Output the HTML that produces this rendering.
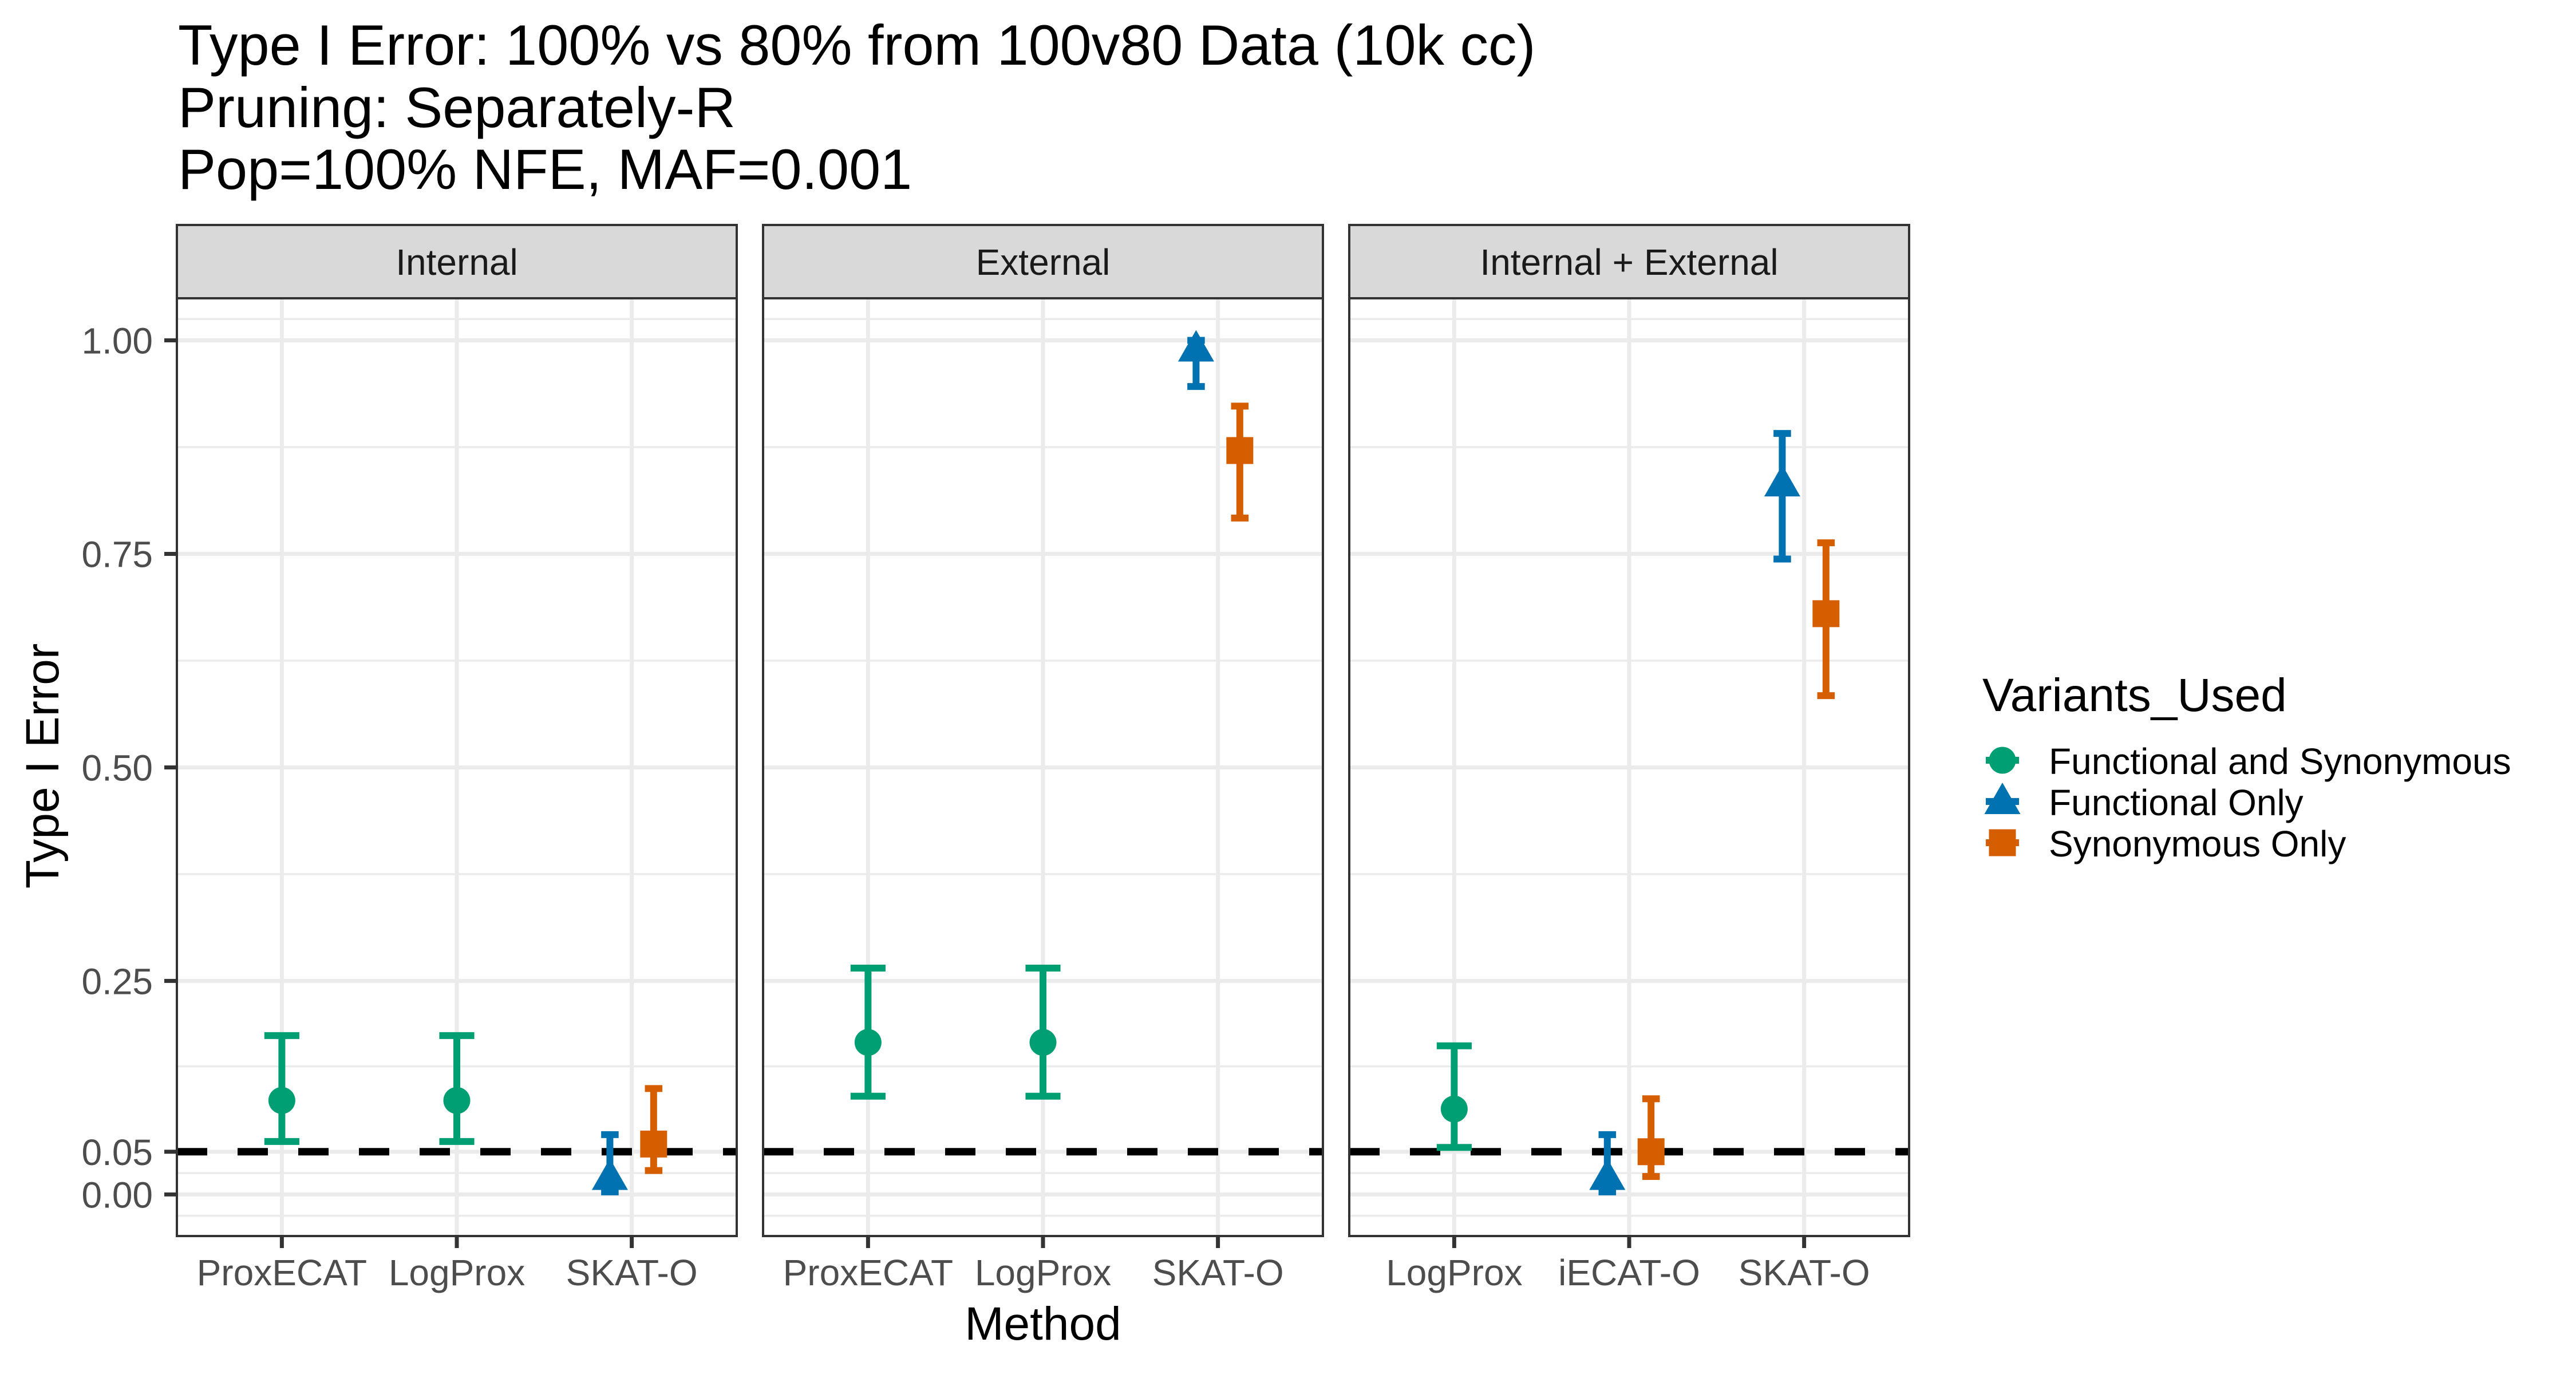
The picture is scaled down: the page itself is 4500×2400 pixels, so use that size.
<!DOCTYPE html>
<html><head><meta charset="utf-8"><style>
html,body{margin:0;padding:0;background:#fff;}
svg{display:block;font-family:"Liberation Sans",Arial,sans-serif;}
</style></head><body>
<svg id="chart" width="4500" height="2400" viewBox="0 0 4500 2400" xmlns="http://www.w3.org/2000/svg">
<rect width="4500" height="2400" fill="#fff"/>
<g font-size="99" fill="#000">
<text x="311" y="113">Type I Error: 100% vs 80% from 100v80 Data (10k cc)</text>
<text x="311" y="222">Pruning: Separately-R</text>
<text x="311" y="330">Pop=100% NFE, MAF=0.001</text>
</g>
<g id="panels"></g>
<text transform="translate(102,1338) rotate(-90)" text-anchor="middle" font-size="82" fill="#000">Type I Error</text>
<text x="1822" y="2340" text-anchor="middle" font-size="82" fill="#000">Method</text>
<g>
<text x="3463" y="1242" font-size="82" fill="#000">Variants_Used</text>
<g id="legend-entries"></g>
</g>
</svg>
<script>
const facets = ["Internal", "External", "Internal + External"];
const facetCategories = [["ProxECAT","LogProx","SKAT-O"],["ProxECAT","LogProx","SKAT-O"],["LogProx","iECAT-O","SKAT-O"]];
const groups = ["Functional and Synonymous","Functional Only","Synonymous Only"];
const groupColors = ["#009E73","#0072B2","#D55E00"];
const yTicks = [0, 0.05, 0.25, 0.5, 0.75, 1.0];
const yTickLabels = ["0.00","0.05","0.25","0.50","0.75","1.00"];
const yMinor = [-0.025, 0.025, 0.15, 0.375, 0.625, 0.875, 1.025];
const refLine = 0.05;
// rows: facet index, category index, group index
const ptFacet = [0,0,0,0,1,1,1,1,2,2,2,2,2];
const ptCat   = [0,1,2,2,0,1,2,2,0,1,1,2,2];
const ptGroup = [0,0,1,2,0,0,1,2,0,1,2,1,2];
const ptEst   = [0.110,0.110,0.020,0.059,0.178,0.178,0.990,0.871,0.100,0.020,0.050,0.832,0.680];
const ptLow   = [0.062,0.062,0.003,0.028,0.115,0.115,0.946,0.792,0.055,0.003,0.021,0.744,0.584];
const ptHigh  = [0.186,0.186,0.070,0.124,0.265,0.265,1.000,0.923,0.174,0.070,0.112,0.891,0.763];

const NS="http://www.w3.org/2000/svg";
function mk(tag, attrs, parent){const e=document.createElementNS(NS,tag);for(const k in attrs)e.setAttribute(k,attrs[k]);if(parent)parent.appendChild(e);return e;}
const panelX0=309, panelW=978, panelGap=46, panelTop=521, panelBottom=2159, stripTop=393;
const yMin=-0.0487, yMax=1.0493;
function yScale(v){return panelBottom-(v-yMin)/(yMax-yMin)*(panelBottom-panelTop);}
function xScale(f,c){const unit=panelW/3.2;return panelX0+f*(panelW+panelGap)+(0.6+c)*unit;}
const unit=panelW/3.2;
const root=document.getElementById('panels');

function nInCat(f,c){let n=0;for(let i=0;i<ptFacet.length;i++)if(ptFacet[i]===f&&ptCat[i]===c)n++;return n;}
function idxInCat(i){let k=0;for(let j=0;j<i;j++)if(ptFacet[j]===ptFacet[i]&&ptCat[j]===ptCat[i])k++;return k;}

function shape(g,gi,cx,cy,parent){
  let e;
  if(gi===0){e=mk('circle',{cx:cx,cy:cy,r:23.5,fill:groupColors[gi]},parent);}
  else if(gi===1){e=mk('polygon',{points:`${cx},${cy-33} ${cx+31.5},${cy+22} ${cx-31.5},${cy+22}`,fill:groupColors[gi]},parent);}
  else {e=mk('rect',{x:cx-23.5,y:cy-23.5,width:47,height:47,fill:groupColors[gi]},parent);}
  return e;
}

facets.forEach((fname,f)=>{
  const x0=panelX0+f*(panelW+panelGap);
  const g=mk('g',{},root);
  
  
  const strip=mk('rect',{x:x0,y:stripTop,width:panelW,height:panelTop-stripTop,fill:'#d9d9d9',stroke:'#333',"stroke-width":4},g);
  
  
  const st=mk('text',{x:x0+panelW/2,y:(stripTop+panelTop)/2+23,"text-anchor":"middle","font-size":64,fill:'#1a1a1a'},g);
  st.textContent=fname;
  
  
  yMinor.forEach(v=>{const l=mk('line',{x1:x0,x2:x0+panelW,y1:yScale(v),y2:yScale(v),stroke:'#ebebeb',"stroke-width":3.5},g);
    
    });
  yTicks.forEach(v=>{const l=mk('line',{x1:x0,x2:x0+panelW,y1:yScale(v),y2:yScale(v),stroke:'#ebebeb',"stroke-width":7},g);
    
    });
  facetCategories[f].forEach((c,ci)=>{
    const x=xScale(f,ci);
    const l=mk('line',{x1:x,x2:x,y1:panelTop,y2:panelBottom,stroke:'#ebebeb',"stroke-width":7},g);
    
    
    const t=mk('line',{x1:x,x2:x,y1:panelBottom,y2:panelBottom+21,stroke:'#333',"stroke-width":7},g);
    
    
    const tl=mk('text',{x:x,y:2245,"text-anchor":"middle","font-size":64,fill:'#4d4d4d'},g);
    tl.textContent=c;
    
    
  });
  const rl=mk('line',{x1:x0,x2:x0+panelW,y1:yScale(refLine),y2:yScale(refLine),stroke:'#000',"stroke-width":13,"stroke-dasharray":"53 53"},g);
  
  
  for(let i=0;i<ptFacet.length;i++){
    if(ptFacet[i]!==f)continue;
    const n=nInCat(f,ptCat[i]), k=idxInCat(i);
    const dw=0.25*unit;
    const cx=xScale(f,ptCat[i])+(n>1?(k-(n-1)/2)*dw:0);
    const cap=(0.2*unit)/n/2;
    const col=groupColors[ptGroup[i]];
    const eg=mk('g',{},g);
    
    
    const yl=yScale(ptLow[i]), yh=yScale(ptHigh[i]);
    mk('line',{x1:cx,x2:cx,y1:yl,y2:yh,stroke:col,"stroke-width":12},eg);
    mk('line',{x1:cx-cap,x2:cx+cap,y1:yl,y2:yl,stroke:col,"stroke-width":12},eg);
    mk('line',{x1:cx-cap,x2:cx+cap,y1:yh,y2:yh,stroke:col,"stroke-width":12},eg);
    const p=shape(eg,ptGroup[i],cx,yScale(ptEst[i]),g);
    
    
  }
  const b=mk('rect',{x:x0,y:panelTop,width:panelW,height:panelBottom-panelTop,fill:'none',stroke:'#333',"stroke-width":4},g);
  
  
});
const ya=mk('g',{},root);


yTicks.forEach((v,i)=>{
  const y=yScale(v);
  const t=mk('line',{x1:287,x2:309,y1:y,y2:y,stroke:'#333',"stroke-width":7},ya);
  
  
  const tl=mk('text',{x:267,y:y+23,"text-anchor":"end","font-size":64,fill:'#4d4d4d'},ya);
  tl.textContent=yTickLabels[i];
  
  
});
const le=document.getElementById('legend-entries');
const legendY=[1328,1400,1472];
groups.forEach((gname,gi)=>{
  const g=mk('g',{},le);
  
  
  const cy=legendY[gi];
  mk('rect',{x:3498-29,y:cy-6,width:58,height:12,fill:groupColors[gi]},g);
  shape(g,gi,3498,cy,g);
  const t=mk('text',{x:3579,y:cy+24,"font-size":64,fill:'#000'},g);
  t.textContent=gname;
});
</script>
</body></html>
